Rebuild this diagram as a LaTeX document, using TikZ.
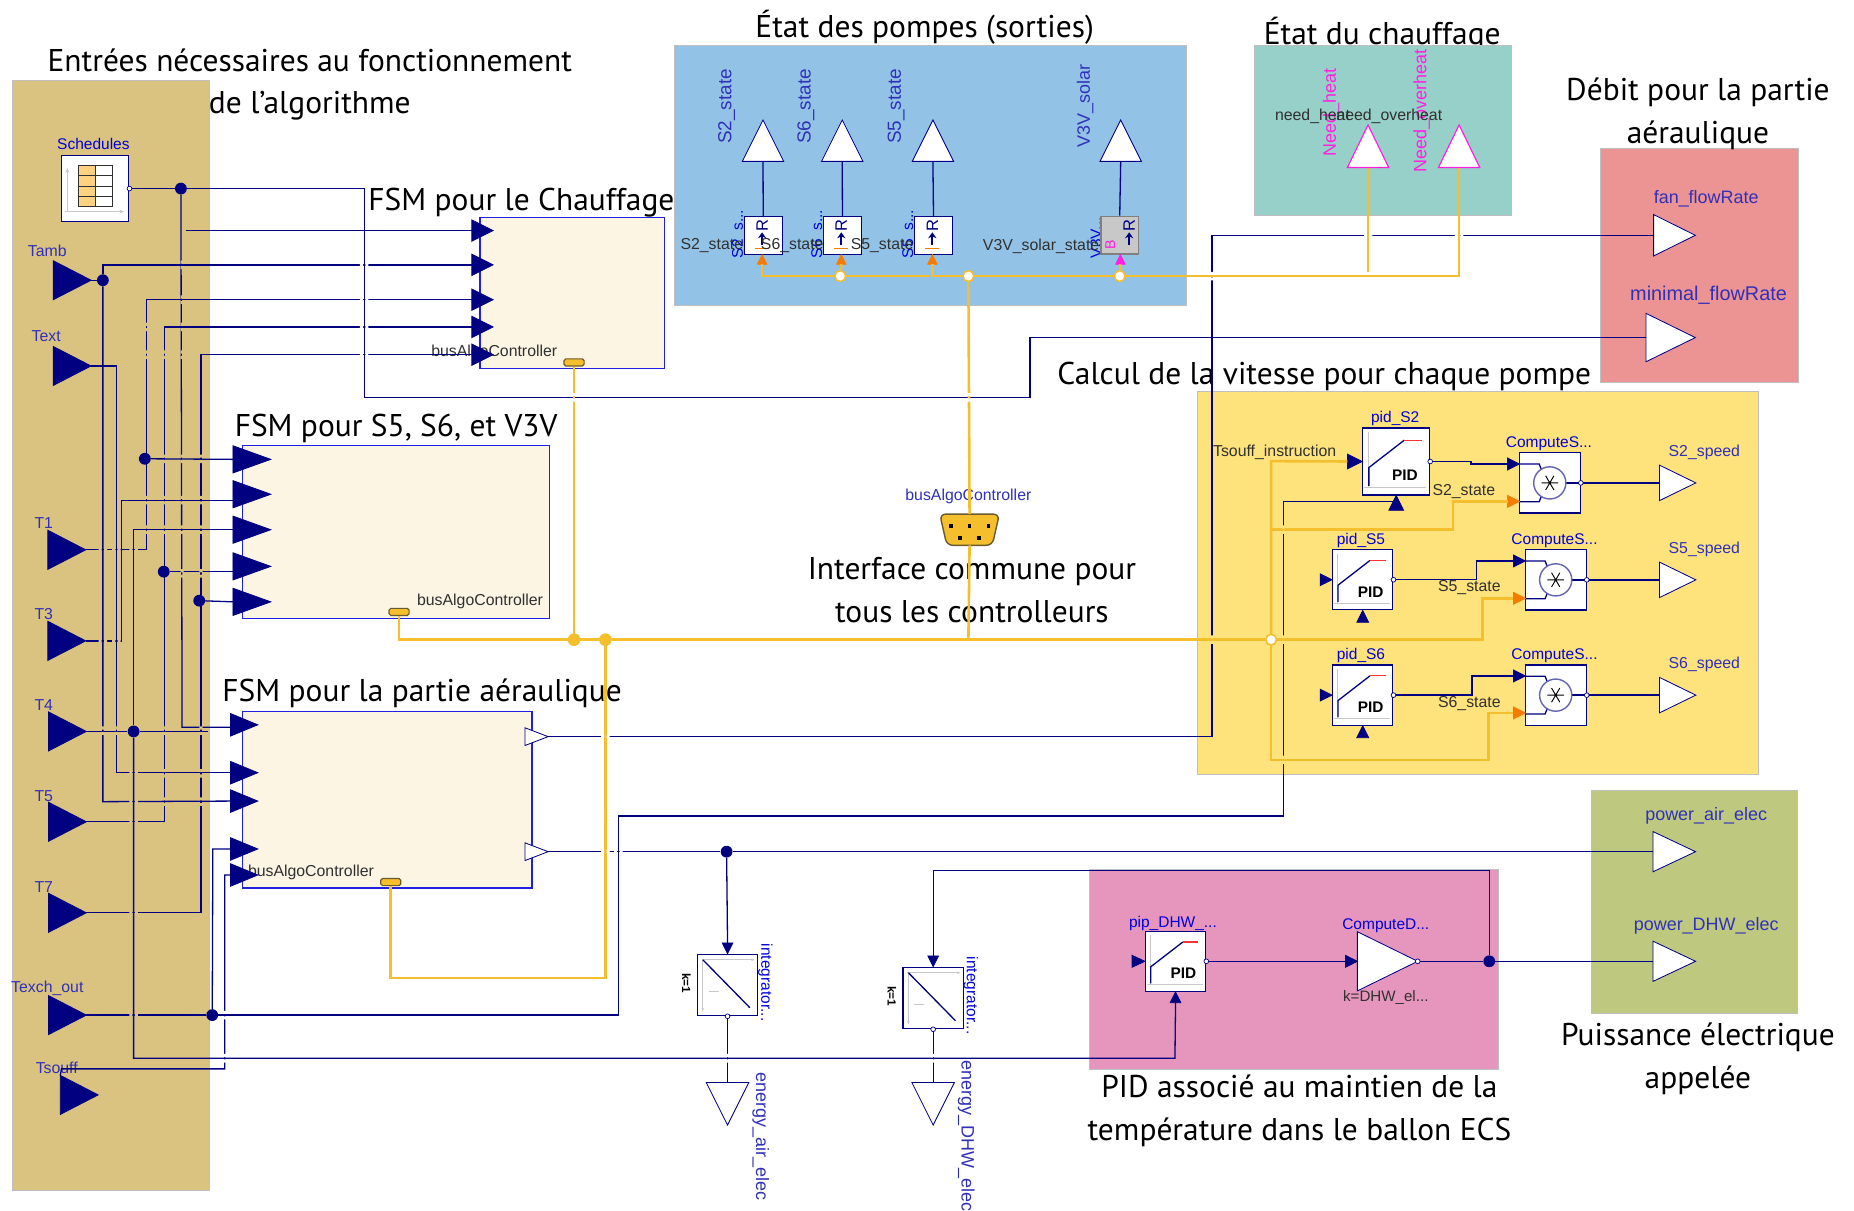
\documentclass[tikz,border=0pt]{standalone}
\usepackage{fontspec}
\setmainfont{PT Sans}
\newfontfamily\fontmod{Liberation Sans}
\usetikzlibrary{arrows.meta,positioning,shapes.geometric,calc}
\definecolor{ctan}{HTML}{DAC380}
\definecolor{cbleu}{HTML}{92C3E6}
\definecolor{cteal}{HTML}{96D0C8}
\definecolor{crouge}{HTML}{EC9494}
\definecolor{cjaune}{HTML}{FEE27C}
\definecolor{cvert}{HTML}{BEC97F}
\definecolor{crose}{HTML}{E696BD}
\definecolor{cfsm}{HTML}{FDF5E3}
\definecolor{cfsmb}{HTML}{2020E0}
\definecolor{cfil}{HTML}{000080}
\definecolor{cbus}{HTML}{F5BE2D}
\definecolor{cbusb}{HTML}{6A5A30}
\definecolor{corange}{HTML}{F57C00}
\definecolor{cetiq}{HTML}{3030B8}
\definecolor{cnoir}{HTML}{303030}
\definecolor{caxe}{HTML}{C8C8C8}
\definecolor{ctable}{HTML}{FFD27F}
\definecolor{cmagenta}{HTML}{FF20E0}
\tikzset{
  panneau/.style={draw=black!25,line width=.5pt},
  titre/.style={align=center,font=\fontsize{26.6}{36}\selectfont,inner sep=0pt,text=black},
  fsm/.style={draw=cfsmb,fill=cfsm,line width=1pt,inner sep=0pt},
  bloc/.style={draw=cfil,fill=white,line width=1pt,inner sep=0pt},
  port/.style={isosceles triangle,isosceles triangle stretches,inner sep=0pt,outer sep=0pt,
               anchor=apex,draw=cfil,line width=.7pt},
  portin/.style 2 args={port,fill=cfil,minimum height=#1,minimum width=#2},
  portout/.style 2 args={port,fill=white,minimum height=#1,minimum width=#2},
  portbus/.style 2 args={port,draw=corange,fill=corange,minimum height=#1,minimum width=#2},
  haut/.style={shape border rotate=90},
  bas/.style={shape border rotate=-90},
  etiq/.style={font=\fontmod\fontsize{13.4}{15}\selectfont,text=cetiq,inner sep=0pt},
  etiqg/.style={font=\fontmod\fontsize{15.2}{17}\selectfont,text=cetiq,inner sep=0pt},
  etiqb/.style={font=\fontmod\fontsize{13.1}{15}\selectfont,text=blue!85!black,inner sep=0pt},
  etiqn/.style={font=\fontmod\fontsize{13.4}{15}\selectfont,text=cnoir,inner sep=0pt},
  fil/.style={draw=cfil,line width=1.1pt},
  bus/.style={draw=cbus,line width=2.2pt},
  axe/.style={draw=caxe,line width=1pt},
  jonction/.style={circle,fill=cfil,inner sep=0pt,minimum size=10pt},
  jbusj/.style={circle,fill=cbus,draw=cbus,inner sep=0pt,minimum size=10pt},
  jbusb/.style={circle,fill=white,draw=cbus,line width=1.2pt,inner sep=0pt,minimum size=9pt},
  psortie/.style={circle,fill=white,draw=cfil,line width=.6pt,inner sep=0pt,minimum size=4pt},
  connbus/.style={draw=cbusb,fill=cbus,rounded corners=1.5pt,line width=1pt,inner sep=0pt,
                  minimum width=17pt,minimum height=6pt},
  busgrand/.style={inner sep=0pt,minimum width=50pt,minimum height=26pt},
}
\newcommand{\iconepid}[3]{%
  \begin{scope}[shift={(#1.north west)},x=#2pt,y=-#3pt]
    \draw[axe] (.094,.075) -- (.094,.9);
    \draw[axe] (.03,.9) -- (.96,.9);
    \draw[fil] (.1,.875) -- (.1,.6) -- (.63,.19);
    \draw[red!80,line width=1pt] (.63,.19) -- (.89,.19);
    \node[font=\fontmod\bfseries\fontsize{13}{15}\selectfont,inner sep=0pt] at (.64,.71) {PID};
  \end{scope}}
\newcommand{\iconeint}[1]{%
  \begin{scope}[shift={(#1.north west)},x=51pt,y=-52pt]
    \draw[axe,-{Stealth[length=3pt]}] (.08,.1) -- (.96,.1);
    \draw[axe,-{Stealth[length=3pt]}] (.1,.08) -- (.1,.94);
    \draw[fil] (.1,.1) -- (.88,.88);
    \draw[axe] (.2,.62) -- (.36,.62);
  \end{scope}}
\newcommand{\iconemul}[1]{%
  \begin{scope}[shift={(#1.center)}]
    \draw[fil] (-25.7,-16) -- (-9,-16) -- (-7,-11);
    \draw[fil] (-25.7,16) -- (-9,16) -- (-7,11);
    \draw[fil] (13.6,0) -- (25.7,0);
    \draw[draw=cfil!60,fill=white,line width=1.2pt] (0,0) circle (13.6);
    \draw[black,line width=.8pt] (-7,0) -- (7,0) (-3.5,-6) -- (3.5,6) (-3.5,6) -- (3.5,-6);
  \end{scope}}

\begin{document}
\begin{tikzpicture}[x=1pt,y=-1pt]
\useasboundingbox (0,0) rectangle (1568,1024);

% titres
\node[titre] (tetatchauf) at (1169,28.5) {État du chauffage};

% panneaux de fond
\path[panneau,fill=ctan] (10,68) rectangle (177,1007);
\path[panneau,fill=cbleu] (570,38) rectangle (1003,258);
\path[panneau,fill=cteal] (1061,38) rectangle (1278,182);
\path[panneau,fill=crouge] (1353,125) rectangle (1521,323);
\path[panneau,fill=cjaune] (1013,331) rectangle (1487,655);
\path[panneau,fill=cvert] (1346,668) rectangle (1520,857);
\path[panneau,fill=crose] (921,735) rectangle (1267,904);

\node[titre] (tentrees) at (262,71.5) {Entrées nécessaires au fonctionnement\\de l’algorithme};
\node[titre] (tpompes) at (782,23) {État des pompes (sorties)};
\node[titre] (tdebit) at (1436,96.5) {Débit pour la partie\\aéraulique};
\node[titre] (tfsma) at (441,171.5) {FSM pour le Chauffage};
\node[titre] (tcalcul) at (1120,318.5) {Calcul de la vitesse pour chaque pompe};
\node[titre] (tfsmb) at (335,362.5) {FSM pour S5, S6, et V3V};
\node[titre] (tinter) at (822,499) {Interface commune pour\\tous les controlleurs};
\node[titre] (tfsmc) at (357,586.5) {FSM pour la partie aéraulique};
\node[titre] (tpuis) at (1436,895.5) {Puissance électrique\\appelée};
\node[titre] (tpid) at (1099,939.5) {PID associé au maintien de la\\température dans le ballon ECS};

% blocs FSM
\node[fsm,minimum width=156pt,minimum height=128pt] (fsma) at (484,248) {};
\node[fsm,minimum width=260pt,minimum height=146pt] (fsmb) at (335,450) {};
\node[fsm,minimum width=245pt,minimum height=149pt] (fsmc) at (327.5,676.5) {};
\node[connbus] (busa) at (485.5,306.5) {};
\node[connbus] (busb) at (337.5,517.5) {};
\node[connbus] (busc) at (330.5,746) {};
\node[etiqn] (lbusa) at (418,298) {busAlgoController};
\node[etiqn] (lbusb) at (406,509) {busAlgoController};
\node[etiqn] (lbusc) at (263,738) {busAlgoController};

% entrees a gauche
\node[bloc,minimum width=57pt,minimum height=56pt] (sched) at (80.5,159.5) {};
\draw[axe,-{Stealth[length=4pt]}] (57,179) -- (57,142);
\draw[axe,-{Stealth[length=4pt]}] (55,179) -- (105,179);
\fill[ctable] (66,140) rectangle (81,175);
\draw[cnoir,line width=.9pt] (66,140) rectangle (95,175) (81,140) -- (81,175)
  (66,148.75) -- (95,148.75) (66,157.5) -- (95,157.5) (66,166.25) -- (95,166.25);
\node[etiqb] (lsched) at (79,122) {Schedules};
\foreach \nom/\lab/\xa/\yc/\xl/\yl in {ptamb/Tamb/77/237/40/212,ptext/Text/77/309.5/39/284,
    pt1/T1/72.5/465/37/442,pt3/T3/72.5/542/37/519,pt4/T4/73/618.6/37/596,
    pt5/T5/73/695/37/673,pt7/T7/73/772/37/750,pex/Texch\_out/73/858.5/40/836,
    psouff/Tsouff/83/926/48/903}{
  \node[portin={32}{33}] (\nom) at (\xa,\yc) {};
  \node[etiq] (l\nom) at (\xl,\yl) {\lab};
}

% entrees des FSM
\foreach \nom/\yc in {a1/195,a2/224,a3/253.5,a4/276.5,a5/300}
  \node[portin={18}{18}] (\nom) at (417,\yc) {};
\foreach \nom/\yc in {b1/388.5,b2/418,b3/448,b4/479,b5/509}
  \node[portin={32}{23}] (\nom) at (229,\yc) {};
\foreach \nom/\yc in {c1/613,c2/653.5,c3/677.5,c4/718,c5/740}
  \node[portin={23}{19}] (\nom) at (218,\yc) {};
\node[portout={19.6}{15}] (co1) at (463.6,623) {};
\node[portout={19.6}{15}] (co2) at (463.6,720.3) {};

% etat des pompes
\foreach \nom/\xc/\xt/\laba/\labb/\xb/\yb in {s2/645.5/645.3/S2\_state/S2\_s/614.5/602,
    s6/712.5/712.3/S6\_state/S6\_s/681.5/670,s5/789.5/789/S5\_state/S5\_s/758/746}{
  \node[etiqg,rotate=90,font=\fontmod\fontsize{16}{17}\selectfont] (la\nom) at (\xb,90) {\laba};
  \node[etiqb,rotate=90] (lb\nom) at (\xc-20.5,198) {\labb...};
  \node[bloc,minimum width=32pt,minimum height=32pt] (\nom) at (\xc,199) {};
  \node[portout={35}{35},haut] (t\nom) at (\xt,101.5) {};
  \node[portbus={8}{8},haut] (tr\nom) at (\xc-1,215.5) {};
  \node[font=\fontmod\fontsize{14}{15}\selectfont,text=cfil,rotate=90,inner sep=0pt] (r\nom) at (\xc-1,190.5) {R};
  \draw[cfil,line width=1.6pt,-{Stealth[length=5pt,width=7pt]}] (\xc-1,207) -- (\xc-1,196.5);
  \draw[corange,line width=1pt] (\xc-7,210) -- (\xc+5,210);
  \node[etiqn] (lc\nom) at (\yb,208) {\laba};
}
\node[etiqg,rotate=90] (lav3v) at (917.7,89.4) {V3V\_solar};
\node[etiqb,rotate=90] (lbv3v) at (927,201) {V3V...};
\node[draw=gray,fill=caxe,line width=1.4pt,inner sep=0pt,minimum width=32pt,minimum height=32pt] (v3v) at (947,199) {};
\node[portout={35}{35},haut] (tv3v) at (947.8,101.5) {};
\draw[fil] (v3v.north) -- (tv3v.lower side);
\node[port,draw=cmagenta,fill=cmagenta,minimum height=8pt,minimum width=8pt,haut] (trv3v) at (947.5,215.5) {};
\node[font=\fontmod\fontsize{14}{15}\selectfont,text=cfil,rotate=90,inner sep=0pt] (rv3v) at (955,190.5) {R};
\node[font=\fontmod\fontsize{12}{15}\selectfont,text=cmagenta,rotate=90,inner sep=0pt] (bv3v) at (939,207) {B};
\draw[cfil,line width=1.6pt,-{Stealth[length=5pt,width=7pt]}] (955,207) -- (955,196.5);
\node[etiqn] (lcv3v) at (880.5,208) {V3V\_solar\_state};
\foreach \nom in {s2,s6,s5} \draw[fil] (\nom.north) -- (t\nom.lower side);

% etat du chauffage
\node[port,draw=cmagenta,fill=white,line width=1pt,minimum height=36pt,minimum width=35pt,haut] (theat) at (1157,105.7) {};
\node[port,draw=cmagenta,fill=white,line width=1pt,minimum height=36pt,minimum width=35pt,haut] (tover) at (1234,105.7) {};
\node[etiqg,text=cmagenta,rotate=90] (lneedh) at (1125.7,95) {Need\_heat};
\node[etiqg,text=cmagenta,rotate=90] (lneedo) at (1202.4,94) {Need\_overheat};
\node[etiqn] (lheat) at (1110,98.7) {need\_heat};
\node[etiqn] (lover) at (1175,98.7) {need\_overheat};

% debit
\node[portout={35.3}{35}] (fan) at (1433.8,199) {};
\node[portout={41.8}{41}] (minimal) at (1433.8,285.5) {};
\node[etiqg] (lfan) at (1443,168) {fan\_flowRate};
\node[etiq,font=\fontmod\fontsize{16.8}{18}\selectfont] (lminimal) at (1445,250) {minimal\_flowRate};

% interface
\node[busgrand] (busmain) at (820,448) {};
\draw[draw=cbusb,fill=cbus,line width=1.2pt,rounded corners=5pt] (busmain.north west) -- (busmain.north east)
  -- ($(busmain.south east)+(-6,0)$) -- ($(busmain.south west)+(6,0)$) -- cycle;
\foreach \xd/\yd in {804/445,820/445,836/445,812/455,828/455}
  \fill[black] (\xd-1.6,\yd-1.6) rectangle (\xd+1.6,\yd+1.6);
\node[etiq] (lbusmain) at (819,420) {busAlgoController};

% vitesse des pompes
\foreach \num/\xp/\yp/\wpid/\hpid/\xc/\yc/\ys/\xl/\yl/\ym/\xm/\xlb/\ylb/\yin/\yor/\dec in
   {S2/1180.8/390.3/56.5/56.6/1310.7/408.4/408.4/1180/353.8/375.5/1310/1238/415.8/392.4/424/12.5,
    S5/1152.5/490.3/51/51/1315.7/490.4/490.4/1151/457.2/457.2/1314.7/1242.7/497.3/474.4/506/10,
    S6/1152.5/587.9/51/51/1315.7/587.9/587.9/1151/554.5/554.5/1314.7/1242.7/594.8/571.7/603/10}{
  \node[bloc,minimum width=\wpid pt,minimum height=\hpid pt] (pid\num) at (\xp,\yp) {};
  \iconepid{pid\num}{\wpid}{\hpid}
  \node[etiqb] (lpid\num) at (\xl,\yl) {pid\_\num};
  \node[portin={\dec}{\dec}] (ip\num) at ($(pid\num.west)$) {};
  \node[portin={\dec}{\dec},haut] (bp\num) at ($(pid\num.south)$) {};
  \node[bloc,minimum width=51.5pt,minimum height=51pt] (mul\num) at (\xc,\yc) {};
  \iconemul{mul\num}
  \node[etiqb] (lmul\num) at (\xm,\ym) {ComputeS...};
  \node[portin={10}{10}] (im\num) at (\xc-25.7,\yin) {};
  \node[portbus={10}{10}] (om\num) at (\xc-25.7,\yor) {};
  \node[portout={30.7}{30}] (v\num) at (1434.2,\ys) {};
  \draw[fil] (mul\num.east) -- (v\num.lower side);
  \node[etiq] (lv\num) at (1441.4,\ys-26) {\num\_speed};
  \node[etiqn] (lst\num) at (\xlb,\ylb) {\num\_state};
}
\node[etiqn] (ltsouff) at (1078,382.5) {Tsouff\_instruction};
\draw[fil] (pidS2.east) -- (1244,390.3) -- (1244,392.4) -- (imS2.lower side);
\draw[fil] (pidS5.east) -- (1248.6,490.3) -- (1248.6,474.4) -- (imS5.lower side);
\draw[fil] (pidS6.east) -- (1245,587.9) -- (1245,571.7) -- (imS6.lower side);

% PID ECS
\node[bloc,minimum width=51pt,minimum height=51pt] (pdhw) at (994.2,813) {};
\iconepid{pdhw}{51}{51}
\node[etiqb] (lpdhw) at (992,781) {pip\_DHW\_...};
\node[portin={10.7}{10}] (ipdhw) at (pdhw.west) {};
\node[portin={9}{9},haut] (bpdhw) at (pdhw.south) {};
\node[portout={51}{50}] (gain) at (1199,813) {};
\node[portin={10}{10}] (igain) at (1148,813) {};
\node[etiqb] (lgain) at (1172,783) {ComputeD...};
\node[etiqn,font=\fontmod\fontsize{12.8}{15}\selectfont] (lkdhw) at (1172,843.5) {k=DHW\_el...};
\node[jonction] (jdhw) at (1259.5,813) {};
\draw[fil] (pdhw.east) -- (igain.lower side);

% puissance et integrateurs
\node[portout={36}{34}] (pair) at (1434,720.3) {};
\node[portout={36}{34}] (pdhwe) at (1434,813) {};
\node[etiqg] (lpair) at (1443,690) {power\_air\_elec};
\node[etiqg] (lpdhwe) at (1443,783) {power\_DHW\_elec};
\foreach \nom/\xc/\yc/\lab in {airi/615.3/833/energy\_air\_elec,dhwi/789.2/844/energy\_DHW\_elec}{
  \node[bloc,minimum width=51pt,minimum height=52pt] (\nom) at (\xc,\yc) {};
  \iconeint{\nom}
  \node[portin={9}{9},bas] (t\nom) at (\nom.north) {};
  \node[etiqn,font=\fontmod\bfseries\fontsize{10}{12}\selectfont,text=black,rotate=-90] (k\nom) at (\xc-34.8,\yc-1.5) {k=1};
  \node[etiqb,rotate=-90] (li\nom) at (\xc+32,\yc-2) {integrator...};
  \node[portout={36}{36},bas] (s\nom) at (\xc,951.5) {};
  \draw[fil] (\nom.south) -- (s\nom.lower side);
  \node[etiqg,rotate=-90] (ls\nom) at (\xc+28,961) {\lab};
}

% jonctions
\node[jonction] (jsched) at (153,159.5) {};
\node[jonction] (jtamb) at (87,237) {};
\node[jonction] (jt1) at (122.5,388) {};
\node[jonction] (jt5) at (138.5,483.5) {};
\node[jonction] (jt7) at (168.5,508) {};
\node[jonction] (jt4) at (113,618.6) {};
\node[jonction] (jex) at (179.5,858.5) {};
\node[jonction] (jair) at (614.5,720.3) {};
\coordinate (da1) at (157,195);
\coordinate (dt4) at (176,618.6);
\coordinate (dheat) at (1157,230);

% fils
\draw[fil] (sched.east) -- (jsched) -- (308,159.5) -- (308,336) -- (871,336) -- (871,285.5) -- (minimal.lower side);
\draw[fil] (jsched) -- (154,615) -- (c1.lower side |- 154,615);
\draw[fil] (da1) -- (a1.lower side);
\draw[fil] (ptamb.apex) -- (jtamb) -- (87,224) -- (a2.lower side);
\draw[fil] (jtamb) -- (87,678) -- (c3.lower side);
\draw[fil] (ptext.apex) -- (98.5,309.5) -- (98.5,653.5) -- (c2.lower side);
\draw[fil] (pt1.apex) -- (124,465) -- (124,253.5) -- (a3.lower side);
\draw[fil] (jt1) -- (b1.lower side);
\draw[fil] (pt3.apex) -- (103,542) -- (103,423) -- (b2.lower side |- 103,423);
\draw[fil] (pt4.apex) -- (jt4) -- (dt4);
\draw[fil] (jt4) -- (113,448) -- (b3.lower side);
\draw[fil] (jt4) -- (113,895) -- (993.7,895) -- (bpdhw.lower side);
\draw[fil] (pt5.apex) -- (139,695) -- (139,276.5) -- (a4.lower side);
\draw[fil] (jt5) -- (b4.lower side |- jt5);
\draw[fil] (pt7.apex) -- (170,772) -- (170,300) -- (a5.lower side);
\draw[fil] (jt7) -- (b5.lower side);
\draw[fil] (pex.apex) -- (jex) -- (523,858.5) -- (523,690) -- (1085.5,690) -- (1085.5,424) -- (bpS2.center |- 0,424);
\draw[fil] (jex) -- (180,718) -- (c4.lower side);
\draw[fil] (psouff.left corner) -- (52,904) -- (190,904) -- (190,740) -- (c5.lower side);
\draw[fil] (co1.apex) -- (1025,623) -- (1025,199) -- (fan.lower side);
\draw[fil] (co2.apex) -- (jair) -- (pair.lower side);
\draw[fil] (jair) -- (tairi.lower side);
\draw[fil] (gain.apex) -- (jdhw) -- (pdhwe.lower side);
\draw[fil] (jdhw) -- (1259.5,736.5) -- (789.2,736.5) -- (tdhwi.lower side);

% bus
\node[jbusj] (jbusa) at (485.5,541) {};
\node[jbusj] (jbusc) at (512,541) {};
\node[jbusb] (jinter) at (1075,541) {};
\node[jbusb] (jsix) at (710.6,233.5) {};
\node[jbusb] (jetat) at (819,233.5) {};
\node[jbusb] (jvan) at (947,233.5) {};
\draw[bus] (busb.south) -- (337.5,541) -- (jbusa) -- (jbusc) -- (jinter);
\draw[bus] (busa.south) -- (jbusa);
\draw[bus] (jbusc) -- (512,827) -- (330.5,827) -- (busc.south);
\draw[bus] (busmain.north) -- (jetat);
\draw[bus] (busmain.south) -- (819,541);
\draw[bus] (jinter) -- (1075,390) -- (ipS2.lower side);
\draw[bus] (jinter) -- (1075,448) -- (1229,448) -- (1229,424) -- (omS2.lower side);
\draw[bus] (jinter) -- (1254,541) -- (1254,506) -- (omS5.lower side);
\draw[bus] (jinter) -- (1075,642.7) -- (1259,642.7) -- (1259,603) -- (omS6.lower side);
\draw[bus] (trs2.lower side) -- (644.5,233.5) -- (jsix) -- (786,233.5);
\draw[bus] (trs6.lower side) -- (jsix);
\draw[bus] (trs5.lower side) -- (788.5,233.5) -- (jetat) -- (jvan) -- (1234,233.5) -- (tover.lower side);
\draw[bus] (trv3v.lower side) -- (jvan);
\draw[bus] (theat.lower side) -- (dheat);
\foreach \j in {jbusa,jbusc} \node[jbusj] at (\j) {};
\foreach \j in {jinter,jsix,jetat,jvan} \node[jbusb] at (\j) {};

% coupures aux croisements
\foreach \x/\y in {154/224,154/253.5,154/276.5,154/300,154/388,154/423,154/448,154/485,
    139/300,139/388,139/423,139/448,139/618,139/654,139/678,
    170/388,170/423,170/448,170/485,170/618,170/654,170/678,
    124/276.5,124/300,124/423,124/448,87/618,98.5/618}
  \fill[ctan] (\x-1.3,\y-3.6) rectangle (\x+1.3,\y-1) (\x-1.3,\y+1) rectangle (\x+1.3,\y+3.6);
\foreach \x/\y in {87/465,98.5/465,113/465,87/542,98.5/542,113/653.5,113/678,113/695,113/772,113/858.5}
  \fill[ctan] (\x-3.6,\y-1.3) rectangle (\x-1,\y+1.3) (\x+1,\y-1.3) rectangle (\x+3.6,\y+1.3);
\foreach \x/\y in {308/224,308/253.5,308/276.5,308/300,512/623,512/720.3,523/720.3,1157/199,1234/199}
  \fill[white] (\x-3.6,\y-1.3) rectangle (\x-1,\y+1.3) (\x+1,\y-1.3) rectangle (\x+3.6,\y+1.3);
\foreach \x/\y in {190/858.5,190/895,615/895,789.2/895,1025/233.5}
  \fill[white] (\x-1.3,\y-3.6) rectangle (\x+1.3,\y-1) (\x-1.3,\y+1) rectangle (\x+1.3,\y+3.6);
\foreach \x/\y in {1025/541,1085.5/448,1085.5/541,1085.5/642.7}
  \fill[cjaune] (\x-1.3,\y-3.6) rectangle (\x+1.3,\y-1) (\x-1.3,\y+1) rectangle (\x+1.3,\y+3.6);
\foreach \x/\y in {485.5/336,819/336}
  \fill[white] (\x-2,\y-3.6) rectangle (\x+2,\y-1) (\x-2,\y+1) rectangle (\x+2,\y+3.6);

% petites sorties
\foreach[count=\i] \a in {sched.east,pidS2.east,pidS5.east,pidS6.east,mulS2.east,mulS5.east,mulS6.east,
    pdhw.east,gain.apex,airi.south,dhwi.south}
  \node[psortie] (sortie\i) at (\a) {};

\end{tikzpicture}
\end{document}
